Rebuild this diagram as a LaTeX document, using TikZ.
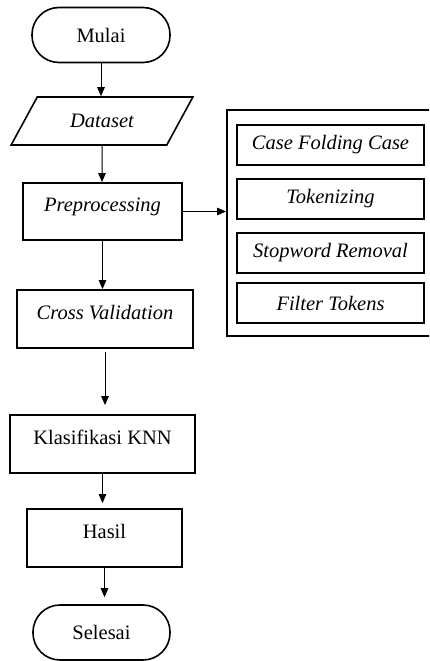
\documentclass[tikz,border=0pt]{standalone}
\usepackage{fontspec}
\setmainfont{Liberation Serif}
\usetikzlibrary{arrows.meta,shapes.geometric}
\begin{document}
\begin{tikzpicture}[x=1pt,y=-1pt,
    font=\fontsize{20.5}{24}\selectfont,
    terminal/.style={draw,line width=1.6pt,rounded corners=27pt,minimum height=55},
    io/.style={draw,line width=1.6pt,trapezium,trapezium left angle=55,trapezium right angle=125,trapezium stretches=true},
    proses/.style={draw,line width=1.8pt,minimum height=58,text height=14pt,text depth=14pt},
    tahapbox/.style={draw,line width=2pt,minimum width=187,minimum height=40,font=\fontsize{20.5}{24}\selectfont\itshape},
    arr/.style={-{Triangle[length=9pt,width=7.5pt]},line width=1pt}]
                \clip (0,0) rectangle (429,661);
                \node[terminal,minimum width=138] (mulai) at (101,35) {Mulai};
                \node[io,minimum width=182,minimum height=48] (dataset) at (102,121) {\itshape Dataset};
                \node[proses,minimum width=159,minimum height=57] (pre) at (102.5,211.5) {\itshape Preprocessing};
                \node[proses,minimum width=176] (cross) at (105,319) {\itshape Cross Validation};
                \node[proses,minimum width=185] (klas) at (102.5,444) {Klasifikasi KNN};
                \node[proses,minimum width=155] (hasil) at (104.5,538) {Hasil};
                \node[terminal,minimum width=137] (selesai) at (101.5,632.5) {Selesai};
                % tahap preprocessing
                \node[draw,line width=1.8pt,minimum width=207,minimum height=226] (tahap) at (330.5,223) {};
                \node[tahapbox] (casefold) at (330.5,144.5) {Case Folding Case};
                \node[tahapbox] (token) at (330.5,198.5) {Tokenizing};
                \node[tahapbox] (stopword) at (330.5,253) {Stopword Removal};
                \node[tahapbox] (filter) at (330.5,303) {Filter Tokens};
                % alur
                \draw[arr] (mulai) -- (mulai |- dataset.north);
                \draw[arr] (dataset) -- (dataset |- pre.north);
                \draw[arr] (pre) -- (pre |- cross.north);
                \draw[arr,shorten <=3pt,shorten >=9pt] (cross) -- (cross |- klas.north);
                \draw[arr,shorten >=5pt] (klas) -- (klas |- hasil.north);
                \draw[arr,shorten >=7pt] (hasil) -- (hasil |- selesai.north);
                \draw[arr] (pre.east) -- (pre.east -| tahap.west);
            \end{tikzpicture}
\end{document}
